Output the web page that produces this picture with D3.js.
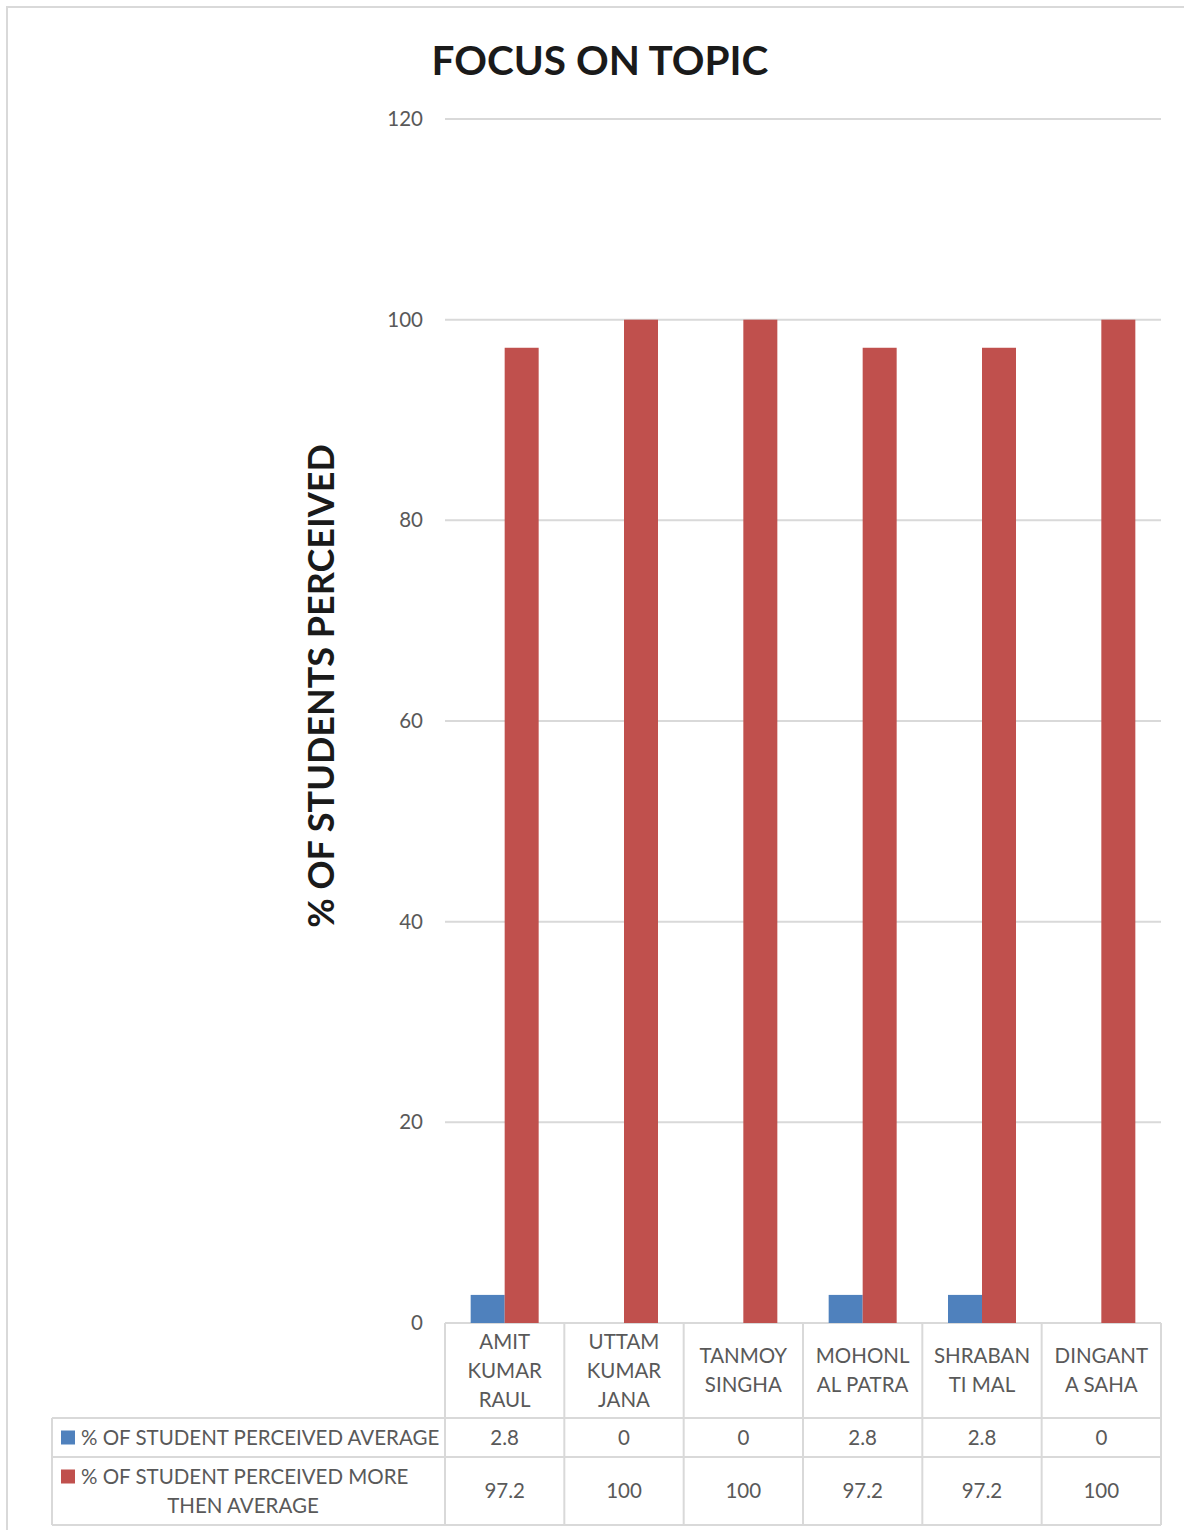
<!DOCTYPE html>
<html><head><meta charset="utf-8">
<script src="https://cdn.jsdelivr.net/npm/d3@7"></script>
<style>
html,body{margin:0;padding:0;background:#fff;}
svg{display:block;font-family:Lato,"Open Sans",sans-serif;}
</style></head>
<body>
<svg id="c" width="1184" height="1530"></svg>
<script>
const categories = [["AMIT","KUMAR","RAUL"],["UTTAM","KUMAR","JANA"],["TANMOY","SINGHA"],["MOHONL","AL PATRA"],["SHRABAN","TI MAL"],["DINGANT","A SAHA"]];
const seriesNames = [["% OF STUDENT PERCEIVED AVERAGE"],["% OF STUDENT PERCEIVED MORE","THEN AVERAGE"]];
const avgValues = [2.8,0,0,2.8,2.8,0];
const moreValues = [97.2,100,100,97.2,97.2,100];
const yTicks = [0,20,40,60,80,100,120];
const colors = ["#4F81BD","#C0504D"];
const series = [avgValues, moreValues];

const svg = d3.select("#c");
const grid = "#D9D9D9", txt = "#595959";
const L = 445, R = 1161, T = 119, B = 1323;
const fs = 20.5;

svg.append("rect").attr("x",7).attr("y",7).attr("width",1200).attr("height",1600)
  .attr("fill","none").attr("stroke",grid).attr("stroke-width",2);

const x = d3.scaleBand().domain(d3.range(categories.length)).range([L,R]).padding(0);
const x1 = d3.scaleBand().domain([0,1]).range([0,x.bandwidth()]).paddingInner(0).paddingOuter(0.755);
const y = d3.scaleLinear().domain([0,120]).range([B,T]);

// gridlines
svg.append("g").selectAll("line").data(yTicks).join("line")
  .attr("x1",L).attr("x2",R).attr("y1",d=>y(d)).attr("y2",d=>y(d))
  .attr("stroke",grid).attr("stroke-width",2);

// y axis labels
const ya = svg.append("g").attr("transform",`translate(${L-22},0)`)
  .call(d3.axisLeft(y).tickValues(yTicks).tickSize(0).tickPadding(0));
ya.select(".domain").remove();
ya.selectAll("text").attr("fill",txt).style("font-size",fs+"px").style("font-family","Lato,'Open Sans',sans-serif");

// bars
series.forEach((vals,si)=>{
  svg.append("g").selectAll("rect").data(vals).join("rect")
    .attr("x",(d,i)=>x(i)+x1(si)).attr("width",x1.bandwidth())
    .attr("y",d=>y(d)).attr("height",d=>y(0)-y(d))
    .attr("fill",colors[si]);
});

// title
svg.append("text").attr("x",600).attr("y",75).attr("text-anchor","middle")
  .attr("font-size",40.5).attr("font-weight","bold").attr("fill","#1a1a1a")
  .text("FOCUS ON TOPIC");

// y-axis title
svg.append("text").attr("transform","translate(334,686) rotate(-90)").attr("text-anchor","middle")
  .attr("font-size",36).attr("font-weight","bold").attr("fill","#1a1a1a")
  .text("% OF STUDENTS PERCEIVED");

// data table
const rowTop = [B,1418,1457,1525];
const tl = svg.append("g").attr("stroke",grid).attr("stroke-width",2);
x.domain().concat([categories.length]).forEach(i=>{
  const xx = i<categories.length ? x(i) : R;
  tl.append("line").attr("x1",xx).attr("x2",xx).attr("y1",B).attr("y2",rowTop[3]);
});
tl.append("line").attr("x1",52).attr("x2",52).attr("y1",rowTop[1]).attr("y2",rowTop[3]);
[1,2,3].forEach(r=>tl.append("line").attr("x1",52).attr("x2",R).attr("y1",rowTop[r]).attr("y2",rowTop[r]));

// category labels
categories.forEach((lines,i)=>{
  const cx = x(i)+x.bandwidth()/2, cy=(rowTop[0]+rowTop[1])/2, lh=29;
  const t = svg.append("text").attr("text-anchor","middle").attr("fill",txt).attr("font-size",fs);
  lines.forEach((ln,k)=>{
    t.append("tspan").attr("x",cx).attr("y",cy+(k-(lines.length-1)/2)*lh).attr("dy","0.35em").text(ln);
  });
});

// values
series.forEach((vals,si)=>{
  const cy=(rowTop[si+1]+rowTop[si+2])/2;
  svg.append("g").selectAll("text").data(vals).join("text")
    .attr("x",(d,i)=>x(i)+x.bandwidth()/2).attr("y",cy).attr("dy","0.35em")
    .attr("text-anchor","middle").attr("fill",txt).attr("font-size",fs).text(d=>d);
});

// legend labels in table
seriesNames.forEach((lines,si)=>{
  const cy=(rowTop[si+1]+rowTop[si+2])/2, lh=29;
  const y0 = cy-(lines.length-1)/2*lh;
  svg.append("rect").attr("x",61).attr("y",y0-7).attr("width",14).attr("height",14).attr("fill",colors[si]);
  const t = svg.append("text").attr("fill",txt).attr("font-size",fs);
  lines.forEach((ln,k)=>{
    if(k===0) t.append("tspan").attr("x",81).attr("y",y0).attr("dy","0.35em").text(ln);
    else t.append("tspan").attr("x",243).attr("y",y0+k*lh).attr("dy","0.35em").attr("text-anchor","middle").text(ln);
  });
});
</script>
</body></html>
